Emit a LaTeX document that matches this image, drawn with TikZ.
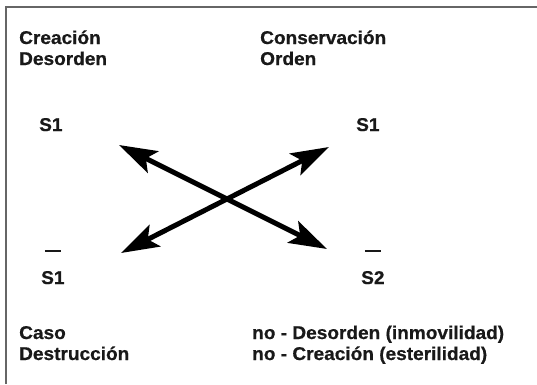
\documentclass[tikz,border=0pt]{standalone}
\usepackage{fontspec}
\setmainfont[FakeStretch=1.03, BoldFeatures={FakeBold=0.6}]{Liberation Sans}
\usetikzlibrary{arrows.meta}
\begin{document}
\begin{tikzpicture}[x=1pt,y=-1pt,
		txt/.style={font=\fontsize{18.5}{21}\selectfont\bfseries, text=black!90, align=left, anchor=base west, inner sep=0pt},
		cross/.style={line width=5pt, {Stealth[length=38pt,width=24pt,inset=8pt]}-{Stealth[length=38pt,width=24pt,inset=8pt]}},
		negbar/.style={line width=2.5pt, black!90}]
		\useasboundingbox (0,0) rectangle (537,384);
		\draw[black!60, line width=1.5pt] (6,384) -- (6,7) -- (537,7);
		\node[txt] (creacion) at (19,65) {Creación\\Desorden};
		\node[txt] (conserv) at (260,65) {Conservación\\Orden};
		\node[txt] (stl) at (39,131) {S1};
		\node[txt] (str) at (356,131) {S1};
		\node[txt] (sbl) at (41,284) {S1};
		\node[txt] (sbr) at (361,284) {S2};
		\node[txt] (caso) at (19,360) {Caso\\Destrucción};
		\node[txt] (nodes) at (252,360) {no - Desorden (inmovilidad)\\no - Creación (esterilidad)};
		\draw[negbar] ([xshift=-8pt,yshift=20pt]sbl.north) -- ++(16,0);
		\draw[negbar] ([xshift=-8pt,yshift=20pt]sbr.north) -- ++(16,0);
		\coordinate (tl) at (119,145);
		\coordinate (br) at (327,249);
		\coordinate (tr) at (329,147);
		\coordinate (bl) at (121,253);
		\draw[cross] (tl) -- (br);
		\draw[cross] (tr) -- (bl);
\end{tikzpicture}
\end{document}
